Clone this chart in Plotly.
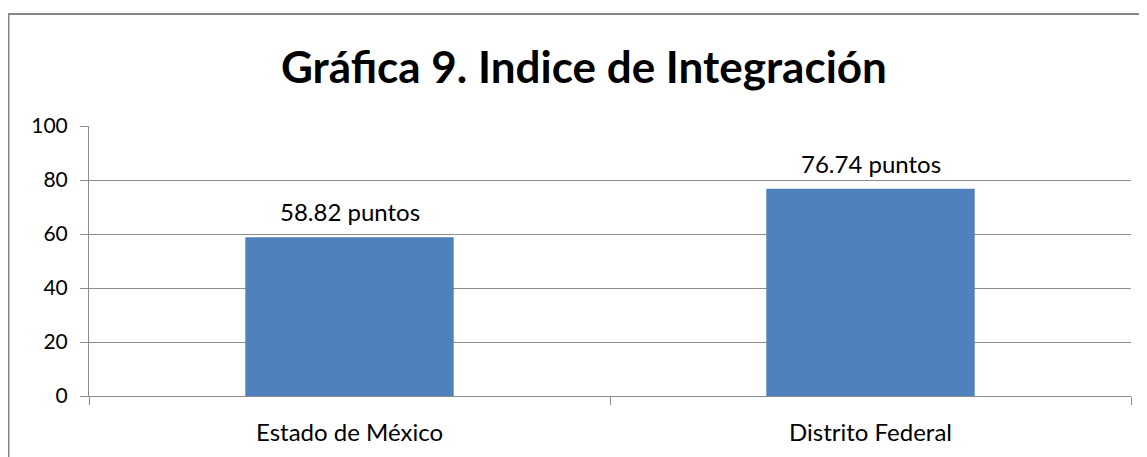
import plotly.graph_objects as go

categories = ["Estado de México", "Distrito Federal"]
values = [58.82, 76.74]
labels = ["58.82 puntos", "76.74 puntos"]
y_ticks = [0, 20, 40, 60, 80, 100]

# page has an 8px body margin; figure drawn from page (8,8)
W, H = 1139, 449
L, R, T, B = 81, 16, 118, 61
pw, ph = W - L - R, H - T - B

FONT = "Lato"
GRID = "#8c8c8c"

fig = go.Figure()
fig.add_trace(go.Bar(x=categories, y=values, marker=dict(color="#4F81BD", line=dict(width=0)),
                     width=0.4, hoverinfo="skip"))

for c, v, t in zip(categories, values, labels):
    fig.add_annotation(x=c, y=v, text=t, showarrow=False, yanchor="bottom", yshift=9,
                       font=dict(family=FONT, size=24, color="#000"))

# title centre at page (582, 68) -> fig (574, 60)
fig.add_annotation(xref="paper", yref="paper", x=(576 - L) / pw, y=(388 - 58) / ph,
                   text="<b>Gráfica 9. Indice de Integración</b>", showarrow=False,
                   xanchor="center", yanchor="middle",
                   font=dict(family=FONT, size=44, color="#000"))

fig.add_shape(type="rect", xref="paper", yref="paper",
              x0=(0.5 - L) / pw, x1=(1160 - L) / pw, y0=(388 - 470) / ph, y1=(388 - 6) / ph,
              line=dict(color="#868686", width=2), fillcolor="rgba(0,0,0,0)", layer="below")

fig.update_layout(
    width=W, height=H, margin=dict(l=L, r=R, t=T, b=B),
    paper_bgcolor="white", plot_bgcolor="white", showlegend=False,
    font=dict(family=FONT, size=21, color="#000"),
    xaxis=dict(showline=True, linecolor=GRID, linewidth=1, ticks="outside", tickson="boundaries",
               ticklen=8, tickcolor=GRID, showgrid=False, tickfont=dict(size=24), ticklabelstandoff=15),
    yaxis=dict(range=[0, 100], tickvals=y_ticks, showline=True, linecolor=GRID, linewidth=1,
               ticks="outside", ticklen=8, tickcolor=GRID, showgrid=True, gridcolor=GRID, gridwidth=1,
               zeroline=False, tickfont=dict(size=21), ticklabelstandoff=8),
    bargap=0.6,
)

fig.write_html("out.html")
